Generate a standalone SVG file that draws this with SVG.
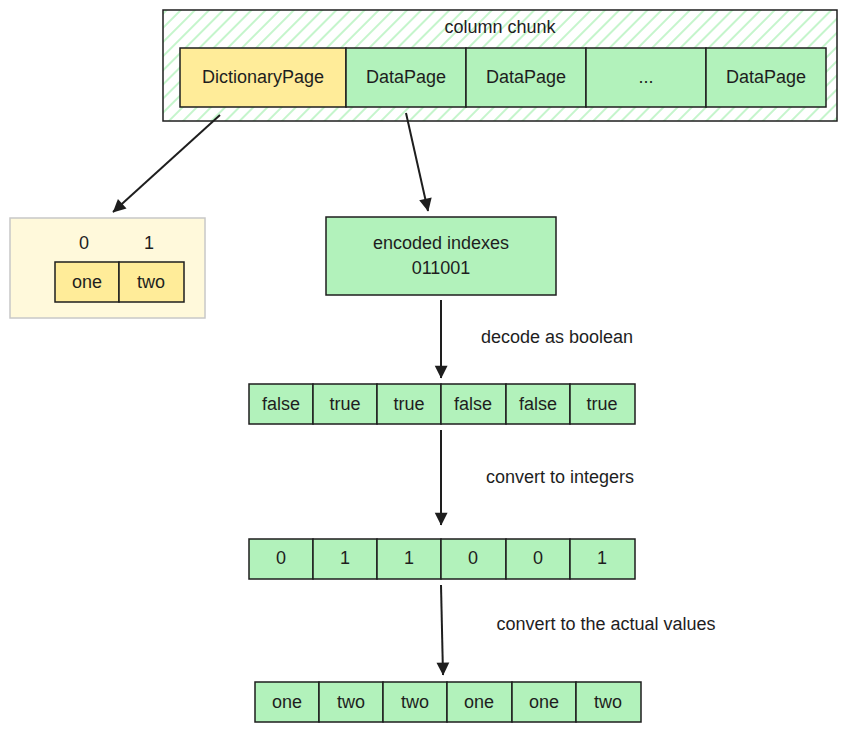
<svg xmlns="http://www.w3.org/2000/svg" width="847" height="734" viewBox="0 0 847 734">
<style>
text{font-family:"Liberation Sans",Arial,sans-serif;font-size:18px;fill:#1e1e1e;text-anchor:middle;dominant-baseline:central}
.g{fill:#b2f2bb;stroke:#1e1e1e;stroke-width:1.5}
.y{fill:#ffec99;stroke:#1e1e1e;stroke-width:1.5}
.c{stroke:#1e1e1e;stroke-width:2;fill:none;marker-end:url(#a)}
</style>
<defs>
<pattern id="h" width="10" height="10" patternUnits="userSpaceOnUse" patternTransform="rotate(-45)">
<rect width="10" height="10" fill="#fff"/><line x1="0" y1="5" x2="10" y2="5" stroke="#b2f2bb" stroke-width="1.5"/>
</pattern>
<marker id="a" viewBox="0 0 10 10" refX="9" refY="5" markerWidth="8" markerHeight="8" orient="auto-start-reverse" markerUnits="userSpaceOnUse" style="overflow:visible">
<path d="M0,0 L10,5 L0,10 z" fill="#1e1e1e" transform="scale(1.6) translate(-4,-2)"/>
</marker>
</defs>
<rect width="847" height="734" fill="#fff"/>
<g id="chunk">
<rect x="163" y="10" width="674" height="111" fill="url(#h)" stroke="#1e1e1e" stroke-width="1.5"/>
<text x="500" y="27">column chunk</text>
<rect class="y" x="180" y="48" width="166" height="59"/><text x="263" y="77">DictionaryPage</text>
<rect class="g" x="346" y="48" width="120" height="59"/><text x="406" y="77">DataPage</text>
<rect class="g" x="466" y="48" width="120" height="59"/><text x="526" y="77">DataPage</text>
<rect class="g" x="586" y="48" width="120" height="59"/><text x="646" y="77">...</text>
<rect class="g" x="706" y="48" width="120" height="59"/><text x="766" y="77">DataPage</text>
</g>
<g id="dict">
<rect x="10" y="218" width="195" height="100" fill="#fff9db" stroke="#c8c8c8" stroke-width="1.5"/>
<text x="84" y="243">0</text><text x="149" y="243">1</text>
<rect class="y" x="55" y="262" width="64" height="40"/><text x="87" y="282">one</text>
<rect class="y" x="119" y="262" width="65" height="40"/><text x="151" y="282">two</text>
</g>
<g id="encoded">
<rect class="g" x="326" y="217" width="230" height="78"/>
<text x="441" y="243">encoded indexes</text><text x="441" y="268">011001</text>
</g>
<g id="row1">
<rect class="g" x="249" y="384" width="64" height="40"/><text x="281" y="404">false</text>
<rect class="g" x="313" y="384" width="64" height="40"/><text x="345" y="404">true</text>
<rect class="g" x="377" y="384" width="64" height="40"/><text x="409" y="404">true</text>
<rect class="g" x="441" y="384" width="65" height="40"/><text x="473" y="404">false</text>
<rect class="g" x="506" y="384" width="64" height="40"/><text x="538" y="404">false</text>
<rect class="g" x="570" y="384" width="65" height="40"/><text x="602" y="404">true</text>
</g>
<g id="row2">
<rect class="g" x="249" y="539" width="64" height="40"/><text x="281" y="558">0</text>
<rect class="g" x="313" y="539" width="64" height="40"/><text x="345" y="558">1</text>
<rect class="g" x="377" y="539" width="64" height="40"/><text x="409" y="558">1</text>
<rect class="g" x="441" y="539" width="65" height="40"/><text x="473" y="558">0</text>
<rect class="g" x="506" y="539" width="64" height="40"/><text x="538" y="558">0</text>
<rect class="g" x="570" y="539" width="65" height="40"/><text x="602" y="558">1</text>
</g>
<g id="row3">
<rect class="g" x="255" y="682" width="64" height="40"/><text x="287" y="702">one</text>
<rect class="g" x="319" y="682" width="64" height="40"/><text x="351" y="702">two</text>
<rect class="g" x="383" y="682" width="64" height="40"/><text x="415" y="702">two</text>
<rect class="g" x="447" y="682" width="65" height="40"/><text x="479" y="702">one</text>
<rect class="g" x="512" y="682" width="64" height="40"/><text x="544" y="702">one</text>
<rect class="g" x="576" y="682" width="65" height="40"/><text x="608" y="702">two</text>
</g>
<g id="connectors">
<path class="c" d="M220,115 L113,212"/>
<path class="c" d="M406,113 L428,211"/>
<path class="c" d="M441,300 L441,378"/>
<path class="c" d="M441,430 L441,525"/>
<path class="c" d="M441,585 L443,675"/>
<text x="557" y="337">decode as boolean</text>
<text x="560" y="477">convert to integers</text>
<text x="606" y="624">convert to the actual values</text>
</g>
</svg>
